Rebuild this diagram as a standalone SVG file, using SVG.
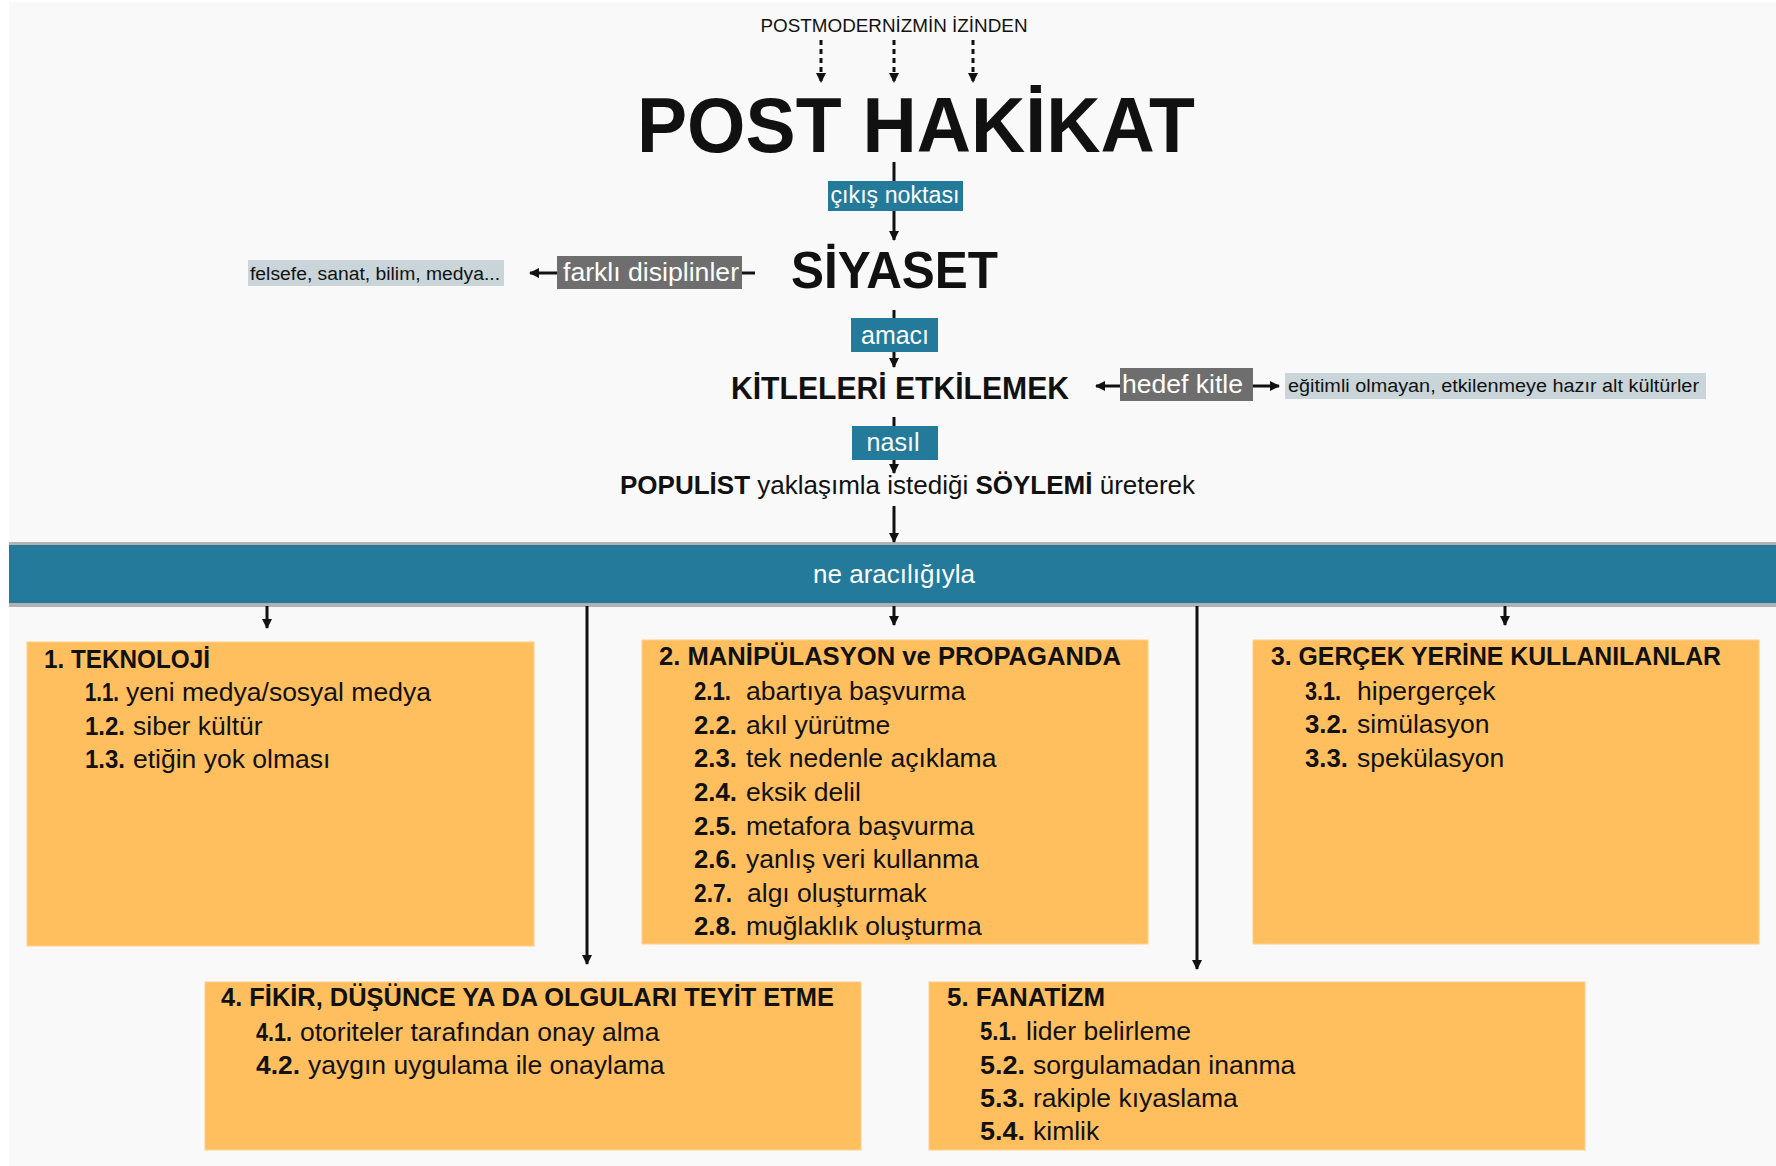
<svg xmlns="http://www.w3.org/2000/svg" width="1776" height="1166" viewBox="0 0 1776 1166">
  <defs>
    <style>
      .txt { font-family: 'Liberation Sans', Arial, sans-serif; fill: #111; }
      .b { font-weight: bold; }
      .w { fill: #fff; }
      .teal { fill: #237a9b; }
      .gray { fill: #6e6e6e; }
      .light { fill: #c9d5d8; }
      .card { fill: #ffbf5f; stroke: #ffd08a; stroke-width: 1; }
      .conn { stroke: #111; stroke-width: 3; fill: none; }
      .dot { stroke-dasharray: 5 4; }
      .head { font-size: 25px; font-weight: bold; }
      .item { font-size: 26.5px; }
    </style>
    <marker id="ah" viewBox="0 0 10 10" refX="9" refY="5" markerWidth="10" markerHeight="10" markerUnits="userSpaceOnUse" orient="auto">
      <path d="M0,0 L10,5 L0,10 z" fill="#111"/>
    </marker>
  </defs>

  <!-- page -->
  <rect x="0" y="0" width="1776" height="1166" fill="#ffffff"/>
  <rect x="9" y="2" width="1767" height="1164" fill="#f9f9f9"/>

  <!-- band -->
  <g id="band">
    <rect x="9" y="542" width="1767" height="65" fill="#b2b2b2"/>
    <rect x="9" y="545" width="1767" height="58" class="teal"/>
    <text x="894" y="583" class="txt w" font-size="26" text-anchor="middle">ne aracılığıyla</text>
  </g>

  <!-- connectors -->
  <g id="connectors" class="conn" marker-end="url(#ah)">
    <path class="dot" d="M821,40 V82"/>
    <path class="dot" d="M894,40 V82"/>
    <path class="dot" d="M973,40 V82"/>
    <path d="M894,162 V240"/>
    <path d="M894,310 V367"/>
    <path d="M894,417 V473"/>
    <path d="M894,506 V542"/>
    <path d="M557,273 H530"/>
    <path d="M742,273 H755" marker-end="none"/>
    <path d="M1120,386 H1096"/>
    <path d="M1253,386 H1279"/>
    <path d="M267,606 V628"/>
    <path d="M894,606 V625"/>
    <path d="M1505,606 V625"/>
    <path d="M587,606 V964"/>
    <path d="M1197,606 V969"/>
  </g>

  <!-- upper chain -->
  <g id="origin">
    <text x="894" y="32" class="txt" font-size="18" text-anchor="middle" textLength="267" lengthAdjust="spacingAndGlyphs">POSTMODERNİZMİN İZİNDEN</text>
  </g>
  <g id="post-hakikat">
    <text x="637" y="152" class="txt b" font-size="78" textLength="558" lengthAdjust="spacingAndGlyphs">POST HAKİKAT</text>
  </g>
  <g id="cikis-noktasi">
    <rect x="828" y="181" width="135" height="30" class="teal"/>
    <text x="895" y="203" class="txt w" font-size="23" text-anchor="middle" textLength="129" lengthAdjust="spacingAndGlyphs">çıkış noktası</text>
  </g>
  <g id="siyaset">
    <text x="791" y="288" class="txt b" font-size="52" textLength="207" lengthAdjust="spacingAndGlyphs">SİYASET</text>
  </g>
  <g id="farkli-disiplinler">
    <rect x="557" y="256" width="185" height="33" class="gray"/>
    <text x="563" y="281" class="txt w" font-size="25" textLength="176" lengthAdjust="spacingAndGlyphs">farklı disiplinler</text>
  </g>
  <g id="disiplin-ornek">
    <rect x="248" y="260" width="256" height="26" class="light"/>
    <text x="250" y="280" class="txt" font-size="18" textLength="250" lengthAdjust="spacingAndGlyphs">felsefe, sanat, bilim, medya...</text>
  </g>
  <g id="amaci">
    <rect x="851" y="318" width="87" height="34" class="teal"/>
    <text x="895" y="344" class="txt w" font-size="26" text-anchor="middle" textLength="68" lengthAdjust="spacingAndGlyphs">amacı</text>
  </g>
  <g id="kitleleri-etkilemek">
    <text x="731" y="399" class="txt b" font-size="32" textLength="338" lengthAdjust="spacingAndGlyphs">KİTLELERİ ETKİLEMEK</text>
  </g>
  <g id="hedef-kitle">
    <rect x="1120" y="368" width="133" height="33" class="gray"/>
    <text x="1122" y="393" class="txt w" font-size="25" textLength="121" lengthAdjust="spacingAndGlyphs">hedef kitle</text>
  </g>
  <g id="kitle-ornek">
    <rect x="1285" y="373" width="421" height="26" class="light"/>
    <text x="1288" y="392" class="txt" font-size="18" textLength="411" lengthAdjust="spacingAndGlyphs">eğitimli olmayan, etkilenmeye hazır alt kültürler</text>
  </g>
  <g id="nasil">
    <rect x="852" y="426" width="86" height="34" class="teal"/>
    <text x="893" y="451" class="txt w" font-size="26" text-anchor="middle" textLength="53" lengthAdjust="spacingAndGlyphs">nasıl</text>
  </g>
  <g id="populist">
    <text x="620" y="494" class="txt" font-size="26"><tspan class="b">POPULİST</tspan> yaklaşımla istediği <tspan class="b">SÖYLEMİ</tspan> üreterek</text>
  </g>

  <!-- 1. TEKNOLOJİ -->
  <g id="teknoloji">
    <rect x="27" y="642" width="507" height="304" class="card"/>
    <text x="44" y="668" class="txt head" textLength="166" lengthAdjust="spacingAndGlyphs">1. TEKNOLOJİ</text>
    <text x="85" y="701" class="txt item b" textLength="34" lengthAdjust="spacingAndGlyphs">1.1.</text>
    <text x="126" y="701" class="txt item">yeni medya/sosyal medya</text>
    <text x="85" y="735" class="txt item b" textLength="40" lengthAdjust="spacingAndGlyphs">1.2.</text>
    <text x="133" y="735" class="txt item">siber kültür</text>
    <text x="85" y="768" class="txt item b" textLength="40" lengthAdjust="spacingAndGlyphs">1.3.</text>
    <text x="133" y="768" class="txt item">etiğin yok olması</text>
  </g>

  <!-- 2. MANİPÜLASYON ve PROPAGANDA -->
  <g id="manipulasyon">
    <rect x="642" y="640" width="506" height="304" class="card"/>
    <text x="659" y="665" class="txt head" textLength="462" lengthAdjust="spacingAndGlyphs">2. MANİPÜLASYON ve PROPAGANDA</text>
    <text x="694" y="700" class="txt item b" textLength="37" lengthAdjust="spacingAndGlyphs">2.1.</text>
    <text x="746" y="700" class="txt item">abartıya başvurma</text>
    <text x="694" y="734" class="txt item b" textLength="43" lengthAdjust="spacingAndGlyphs">2.2.</text>
    <text x="746" y="734" class="txt item">akıl yürütme</text>
    <text x="694" y="767" class="txt item b" textLength="43" lengthAdjust="spacingAndGlyphs">2.3.</text>
    <text x="746" y="767" class="txt item">tek nedenle açıklama</text>
    <text x="694" y="801" class="txt item b" textLength="43" lengthAdjust="spacingAndGlyphs">2.4.</text>
    <text x="746" y="801" class="txt item">eksik delil</text>
    <text x="694" y="835" class="txt item b" textLength="43" lengthAdjust="spacingAndGlyphs">2.5.</text>
    <text x="746" y="835" class="txt item">metafora başvurma</text>
    <text x="694" y="868" class="txt item b" textLength="43" lengthAdjust="spacingAndGlyphs">2.6.</text>
    <text x="746" y="868" class="txt item">yanlış veri kullanma</text>
    <text x="694" y="902" class="txt item b" textLength="38" lengthAdjust="spacingAndGlyphs">2.7.</text>
    <text x="747" y="902" class="txt item">algı oluşturmak</text>
    <text x="694" y="935" class="txt item b" textLength="43" lengthAdjust="spacingAndGlyphs">2.8.</text>
    <text x="746" y="935" class="txt item">muğlaklık oluşturma</text>
  </g>

  <!-- 3. GERÇEK YERİNE KULLANILANLAR -->
  <g id="gercek-yerine">
    <rect x="1253" y="640" width="506" height="304" class="card"/>
    <text x="1271" y="665" class="txt head" textLength="450" lengthAdjust="spacingAndGlyphs">3. GERÇEK YERİNE KULLANILANLAR</text>
    <text x="1305" y="700" class="txt item b" textLength="36" lengthAdjust="spacingAndGlyphs">3.1.</text>
    <text x="1357" y="700" class="txt item">hipergerçek</text>
    <text x="1305" y="733" class="txt item b" textLength="43" lengthAdjust="spacingAndGlyphs">3.2.</text>
    <text x="1357" y="733" class="txt item">simülasyon</text>
    <text x="1305" y="767" class="txt item b" textLength="43" lengthAdjust="spacingAndGlyphs">3.3.</text>
    <text x="1357" y="767" class="txt item">spekülasyon</text>
  </g>

  <!-- 4. FİKİR, DÜŞÜNCE YA DA OLGULARI TEYİT ETME -->
  <g id="teyit-etme">
    <rect x="205" y="982" width="656" height="168" class="card"/>
    <text x="221" y="1006" class="txt head" textLength="613" lengthAdjust="spacingAndGlyphs">4. FİKİR, DÜŞÜNCE YA DA OLGULARI TEYİT ETME</text>
    <text x="256" y="1041" class="txt item b" textLength="36" lengthAdjust="spacingAndGlyphs">4.1.</text>
    <text x="300" y="1041" class="txt item">otoriteler tarafından onay alma</text>
    <text x="256" y="1074" class="txt item b" textLength="44" lengthAdjust="spacingAndGlyphs">4.2.</text>
    <text x="308" y="1074" class="txt item">yaygın uygulama ile onaylama</text>
  </g>

  <!-- 5. FANATİZM -->
  <g id="fanatizm">
    <rect x="929" y="982" width="656" height="168" class="card"/>
    <text x="947" y="1006" class="txt head" textLength="158" lengthAdjust="spacingAndGlyphs">5. FANATİZM</text>
    <text x="980" y="1040" class="txt item b" textLength="37" lengthAdjust="spacingAndGlyphs">5.1.</text>
    <text x="1026" y="1040" class="txt item">lider belirleme</text>
    <text x="980" y="1074" class="txt item b" textLength="45" lengthAdjust="spacingAndGlyphs">5.2.</text>
    <text x="1033" y="1074" class="txt item">sorgulamadan inanma</text>
    <text x="980" y="1107" class="txt item b" textLength="45" lengthAdjust="spacingAndGlyphs">5.3.</text>
    <text x="1033" y="1107" class="txt item">rakiple kıyaslama</text>
    <text x="980" y="1140" class="txt item b" textLength="45" lengthAdjust="spacingAndGlyphs">5.4.</text>
    <text x="1033" y="1140" class="txt item">kimlik</text>
  </g>
</svg>
